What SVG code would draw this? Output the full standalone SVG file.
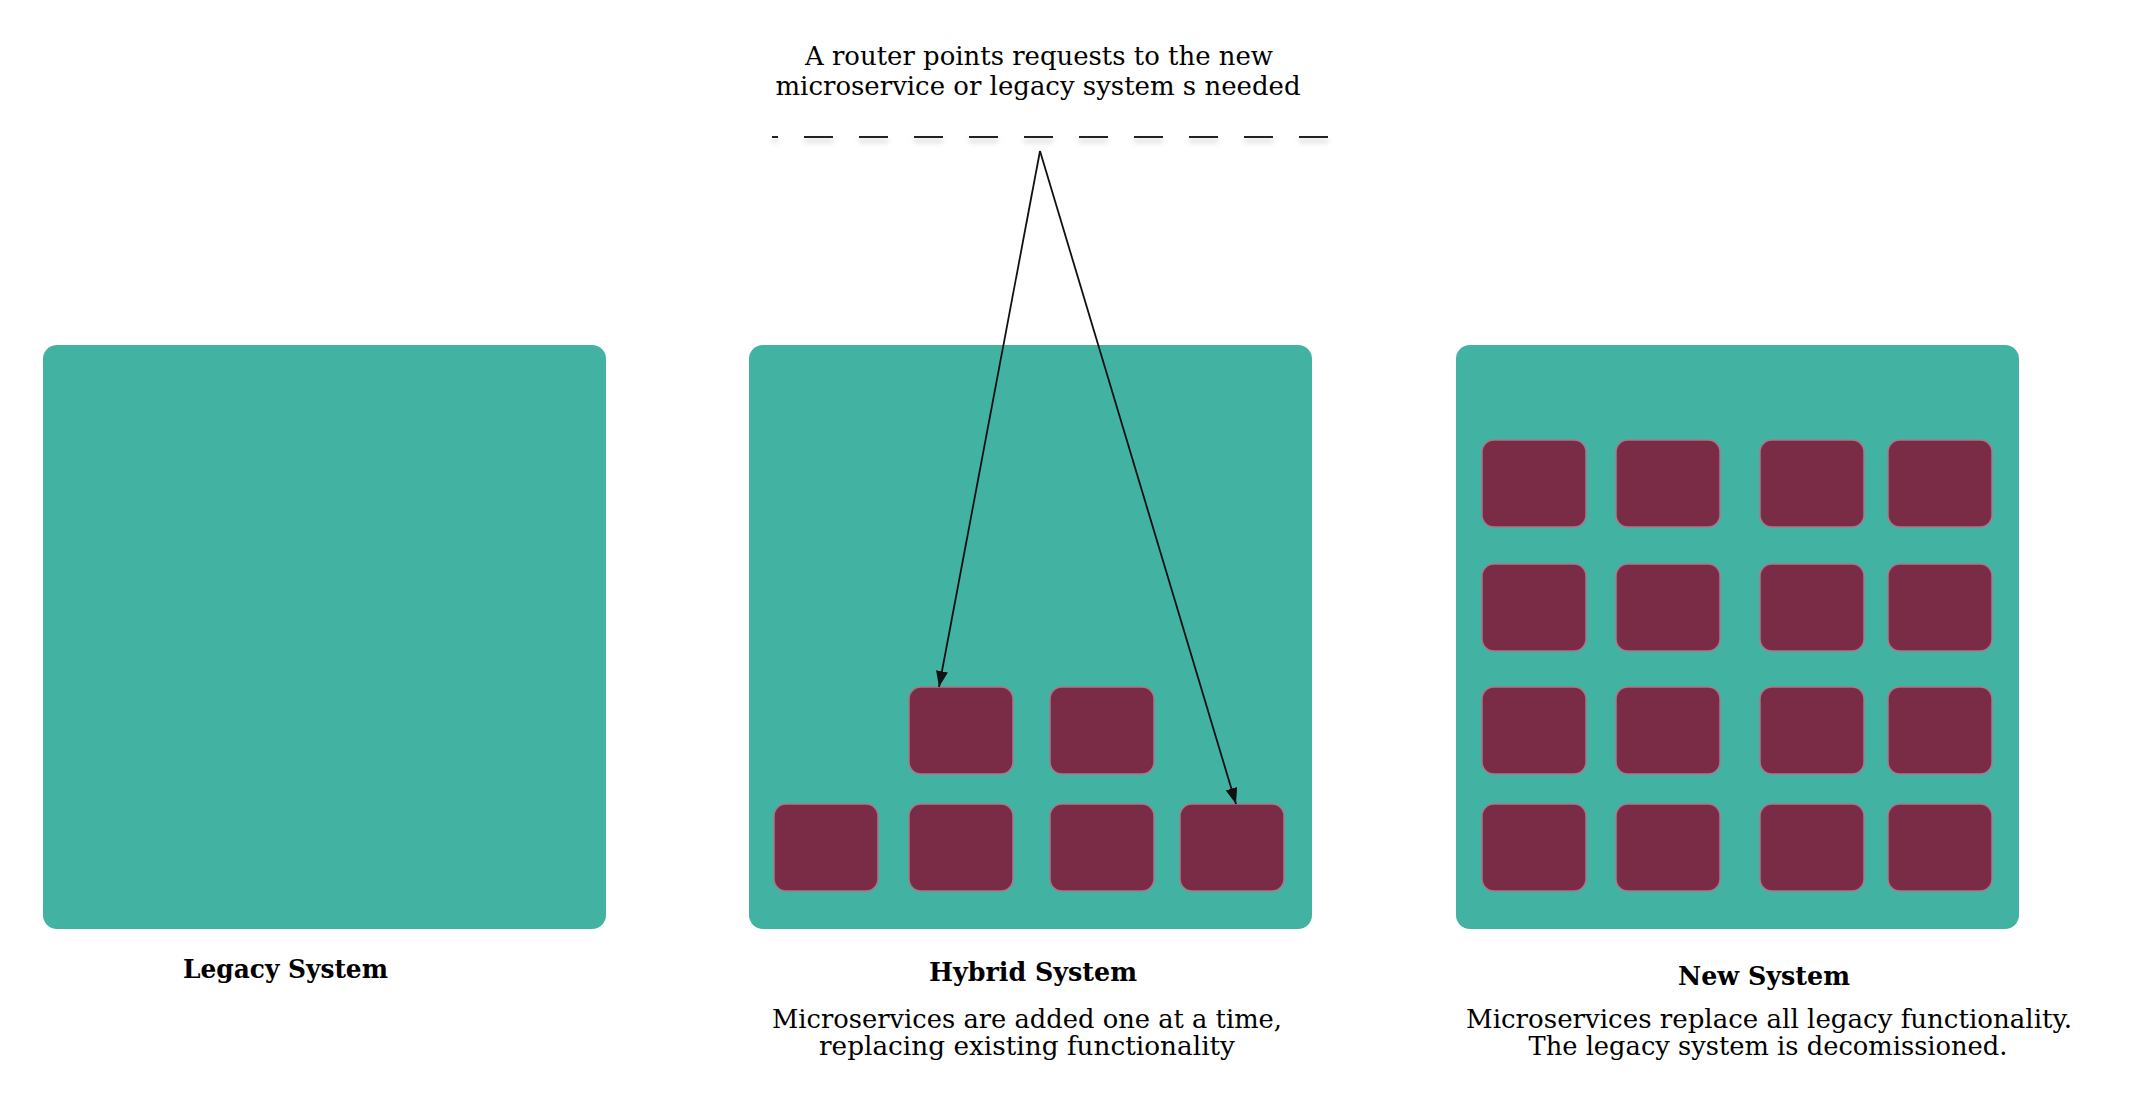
<svg xmlns="http://www.w3.org/2000/svg" width="2156" height="1098" viewBox="0 0 2156 1098">
<style>
.sys{fill:#42b3a3}
.ms{fill:#7a2b45;stroke:#a8788a;stroke-width:1.5}
.t{font-family:"DejaVu Serif","Liberation Serif",serif;font-size:26px;fill:#000;text-anchor:middle}
.b{font-family:"DejaVu Serif","Liberation Serif",serif;font-size:26px;font-weight:bold;fill:#000;text-anchor:middle}
.conn{stroke:#111;stroke-width:1.8;fill:none}
</style>
<defs>
<marker id="ah2" viewBox="0 0 16 12" refX="16" refY="6" markerWidth="16" markerHeight="12" markerUnits="userSpaceOnUse" orient="auto">
<path d="M0,0 L16,6 L0,12 z" fill="#111"/>
</marker>
<filter id="sh" filterUnits="userSpaceOnUse" x="760" y="120" width="590" height="40">
<feDropShadow dx="0" dy="4" stdDeviation="2.5" flood-color="#999" flood-opacity="0.6"/>
</filter>
</defs>
<rect width="2156" height="1098" fill="#fff"/>

<g id="router">
<text class="t" x="1039" y="65" textLength="468" lengthAdjust="spacingAndGlyphs">A router points requests to the new</text>
<text class="t" x="1038" y="95" textLength="525" lengthAdjust="spacingAndGlyphs">microservice or legacy system s needed</text>
<line x1="772" y1="137" x2="1329" y2="137" stroke="#222" stroke-width="2.2" stroke-dasharray="29 26" stroke-dashoffset="23" filter="url(#sh)"/>
</g>

<g id="legacy">
<rect class="sys" x="43" y="345" width="563" height="584" rx="14"/>
<text class="b" x="285.5" y="978" textLength="205" lengthAdjust="spacingAndGlyphs">Legacy System</text>
</g>

<g id="hybrid">
<rect class="sys" x="749" y="345" width="563" height="584" rx="14"/>
<rect class="ms" x="909" y="687" width="104" height="87" rx="12"/>
<rect class="ms" x="1050" y="687" width="104" height="87" rx="12"/>
<rect class="ms" x="774" y="804" width="104" height="87" rx="12"/>
<rect class="ms" x="909" y="804" width="104" height="87" rx="12"/>
<rect class="ms" x="1050" y="804" width="104" height="87" rx="12"/>
<rect class="ms" x="1180" y="804" width="104" height="87" rx="12"/>
<text class="b" x="1033" y="981" textLength="208" lengthAdjust="spacingAndGlyphs">Hybrid System</text>
<text class="t" x="1027" y="1028" textLength="510" lengthAdjust="spacingAndGlyphs">Microservices are added one at a time,</text>
<text class="t" x="1027" y="1055" textLength="416" lengthAdjust="spacingAndGlyphs">replacing existing functionality</text>
</g>

<g id="new">
<rect class="sys" x="1456" y="345" width="563" height="584" rx="14"/>
<g>
<rect class="ms" x="1482" y="440" width="104" height="87" rx="12"/>
<rect class="ms" x="1616" y="440" width="104" height="87" rx="12"/>
<rect class="ms" x="1760" y="440" width="104" height="87" rx="12"/>
<rect class="ms" x="1888" y="440" width="104" height="87" rx="12"/>
<rect class="ms" x="1482" y="564" width="104" height="87" rx="12"/>
<rect class="ms" x="1616" y="564" width="104" height="87" rx="12"/>
<rect class="ms" x="1760" y="564" width="104" height="87" rx="12"/>
<rect class="ms" x="1888" y="564" width="104" height="87" rx="12"/>
<rect class="ms" x="1482" y="687" width="104" height="87" rx="12"/>
<rect class="ms" x="1616" y="687" width="104" height="87" rx="12"/>
<rect class="ms" x="1760" y="687" width="104" height="87" rx="12"/>
<rect class="ms" x="1888" y="687" width="104" height="87" rx="12"/>
<rect class="ms" x="1482" y="804" width="104" height="87" rx="12"/>
<rect class="ms" x="1616" y="804" width="104" height="87" rx="12"/>
<rect class="ms" x="1760" y="804" width="104" height="87" rx="12"/>
<rect class="ms" x="1888" y="804" width="104" height="87" rx="12"/>
</g>
<text class="b" x="1764" y="985" textLength="172" lengthAdjust="spacingAndGlyphs">New System</text>
<text class="t" x="1769" y="1028" textLength="606" lengthAdjust="spacingAndGlyphs">Microservices replace all legacy functionality.</text>
<text class="t" x="1768" y="1055" textLength="479" lengthAdjust="spacingAndGlyphs">The legacy system is decomissioned.</text>
</g>

<g id="connectors">
<line class="conn" x1="1040" y1="151" x2="939" y2="687" marker-end="url(#ah2)"/>
<line class="conn" x1="1040" y1="151" x2="1236" y2="804" marker-end="url(#ah2)"/>
</g>
</svg>
